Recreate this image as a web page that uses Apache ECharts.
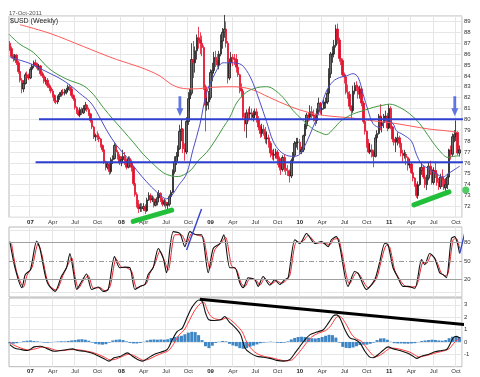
<!DOCTYPE html>
<html><head><meta charset="utf-8">
<script src="https://cdn.jsdelivr.net/npm/echarts@6/dist/echarts.min.js"></script>
<style>html,body{margin:0;padding:0;background:#fff}#c{width:480px;height:377px}</style>
</head><body><div id="c"></div>
<script>
// ---- weekly candles [open, close, low, high] ----
const w2006 = [[87.0,86.5,86.3,87.2],[86.5,85.8,85.6,86.7],[85.8,85.6,85.3,86.0],[85.6,85.9,85.4,86.0],[85.9,85.2,85.0,86.0],[85.2,84.4,84.2,85.4],[84.4,83.6,83.4,84.6],[83.6,82.8,82.4,83.8],[82.8,83.3,82.5,83.6],[83.3,84.1,83.2,84.3],[84.1,84.0,83.7,84.4],[84.0,83.8,83.6,84.2]];
const w2007 = [[83.8,84.6,83.7,84.8],[84.6,84.9,84.4,85.1],[84.9,85.2,84.7,85.4],[85.2,85.0,84.8,85.5],[85.0,84.7,84.5,85.2],[84.7,84.9,84.5,85.1],[84.9,84.2,84.0,85.0],[84.2,84.0,83.8,84.4],[84.0,83.5,83.3,84.1],[83.5,83.6,83.2,83.9],[83.6,83.1,82.9,83.8],[83.1,82.9,82.6,83.3],[82.9,82.6,82.4,83.0],[82.6,82.2,82.0,82.8],[82.2,81.7,81.5,82.3],[81.7,81.6,81.4,81.9],[81.6,82.1,81.4,82.2],[82.1,82.3,81.8,82.5],[82.3,82.5,82.1,82.7],[82.5,82.4,82.2,82.8],[82.4,82.5,82.2,82.8],[82.5,82.7,82.3,82.9],[82.7,83.0,82.5,83.2],[83.0,82.8,82.6,83.2],[82.8,82.2,82.0,83.0],[82.2,81.9,81.7,82.3],[81.9,81.1,80.9,82.0],[81.1,80.7,80.5,81.2],[80.7,80.4,80.3,80.9],[80.4,80.9,80.2,81.1],[80.9,80.6,80.4,81.1],[80.6,81.0,80.5,81.3],[81.0,81.3,80.8,81.6],[81.3,80.9,80.7,81.4],[80.9,80.5,80.3,81.1],[80.5,79.9,79.7,80.6],[79.9,79.3,79.1,80.0],[79.3,78.4,78.2,79.4],[78.4,78.5,78.0,78.7],[78.5,78.4,78.1,78.9],[78.4,78.2,77.9,78.7],[78.2,77.6,77.4,78.3],[77.6,77.2,77.0,77.7],[77.2,76.1,75.9,77.3],[76.1,75.6,75.3,76.2],[75.6,75.9,75.4,76.1],[75.9,75.2,74.9,76.0],[75.2,76.3,75.0,76.5],[76.3,76.4,75.9,76.7],[76.4,77.6,76.3,77.8],[77.6,77.0,76.8,77.8],[77.0,76.6,76.3,77.2]];
const w2008 = [[76.6,76.0,75.8,76.8],[76.0,76.3,75.7,76.6],[76.3,76.6,76.0,77.2],[76.6,76.2,75.8,77.0],[76.2,75.6,75.4,76.4],[75.6,76.4,75.5,76.6],[76.4,76.0,75.8,76.6],[76.0,75.6,75.2,76.3],[75.6,74.1,73.9,75.7],[74.1,73.1,72.9,74.2],[73.1,72.2,71.9,73.3],[72.2,71.8,71.4,72.6],[71.8,71.9,71.5,72.3],[71.9,71.8,71.5,72.3],[71.8,72.0,71.6,72.3],[72.0,71.6,71.3,72.2],[71.6,72.6,71.5,72.8],[72.6,73.0,72.5,73.3],[73.0,72.6,72.3,73.2],[72.6,72.7,72.4,73.0],[72.7,72.1,71.9,72.9],[72.1,72.4,72.0,72.7],[72.4,72.8,72.1,73.3],[72.8,73.2,72.7,73.5],[73.2,72.6,72.4,73.3],[72.6,72.2,72.0,72.8],[72.2,72.4,72.0,72.7],[72.4,72.1,71.8,72.6],[72.1,72.2,71.5,72.4],[72.2,72.9,72.0,73.1],[72.9,73.3,72.7,73.5],[73.3,75.2,73.2,75.4],[75.2,76.1,75.0,76.6],[76.1,76.6,75.8,77.0],[76.6,77.3,76.3,77.6],[77.3,78.9,77.2,79.5],[78.9,79.1,78.0,80.0],[79.1,77.3,76.9,79.2],[77.3,77.0,76.2,77.8],[77.0,79.8,76.8,80.2],[79.8,81.9,79.5,82.5],[81.9,82.4,80.8,82.8],[82.4,85.5,82.2,87.0],[85.5,85.2,83.8,87.2],[85.2,86.3,84.3,86.7],[86.3,87.5,85.5,87.8],[87.5,87.3,86.5,88.5],[87.3,87.0,86.0,88.0],[87.0,86.6,85.8,87.7],[86.6,83.0,82.7,86.8],[83.0,81.3,78.9,83.2],[81.3,81.6,80.8,82.0]];
const w2009 = [[81.6,82.0,80.9,82.6],[82.0,84.3,81.8,84.6],[84.3,84.5,83.5,85.2],[84.5,85.7,84.2,86.2],[85.7,85.4,84.8,86.3],[85.4,85.0,84.8,86.0],[85.0,86.0,84.6,86.3],[86.0,87.2,85.8,87.8],[87.2,88.0,86.5,88.4],[88.0,88.3,87.5,89.6],[88.3,87.0,86.6,89.0],[87.0,83.8,83.3,87.2],[83.8,85.2,83.6,85.6],[85.2,85.7,84.8,86.2],[85.7,85.6,84.9,86.0],[85.6,85.5,85.0,86.0],[85.5,84.8,84.3,86.0],[84.8,84.1,83.9,85.5],[84.1,82.8,82.4,84.2],[82.8,82.6,82.0,83.3],[82.6,80.2,80.0,82.7],[80.2,79.6,78.9,80.6],[79.6,80.6,78.3,80.9],[80.6,80.5,79.8,81.0],[80.5,80.6,80.0,81.2],[80.6,80.2,79.9,81.0],[80.2,80.4,79.8,80.8],[80.4,80.7,80.1,81.0],[80.7,80.0,79.7,81.0],[80.0,79.3,79.0,80.3],[79.3,78.7,78.3,79.5],[78.7,79.1,78.4,79.6],[79.1,78.8,78.5,79.5],[78.8,78.2,77.8,79.3],[78.2,78.3,77.7,78.9],[78.3,77.8,77.4,78.6],[77.8,76.9,76.5,78.0],[76.9,76.7,76.3,77.2],[76.7,76.8,76.2,77.3],[76.8,77.0,76.4,77.3],[77.0,76.4,75.8,77.2],[76.4,75.6,75.3,76.6],[75.6,75.4,74.9,75.9],[75.4,76.5,75.2,76.7],[76.5,75.5,75.2,76.8],[75.5,75.3,74.9,75.9],[75.3,75.2,74.8,75.8],[75.2,74.8,74.2,75.4],[74.8,76.2,74.6,76.4],[76.2,76.7,75.9,77.0],[76.7,77.8,76.5,78.0],[77.8,77.9,77.4,78.3]];
const w2010 = [[77.9,77.9,77.2,78.3],[77.9,77.0,76.8,78.2],[77.0,77.2,76.8,77.5],[77.2,78.5,77.0,78.6],[78.5,79.4,78.3,79.6],[79.4,80.4,79.1,80.6],[80.4,80.2,79.8,80.6],[80.2,80.7,79.9,81.3],[80.7,80.4,80.1,81.2],[80.4,80.3,79.8,80.9],[80.3,79.9,79.4,80.5],[79.9,80.8,79.6,81.0],[80.8,81.5,80.5,82.0],[81.5,80.9,80.5,81.6],[80.9,81.0,80.4,81.4],[81.0,81.5,80.9,81.8],[81.5,81.6,81.0,82.0],[81.6,82.4,81.4,82.8],[82.4,84.2,82.2,84.7],[84.2,86.0,83.8,86.2],[86.0,86.0,85.2,86.7],[86.0,86.8,85.7,87.3],[86.8,88.3,86.6,88.7],[88.3,87.3,86.9,88.8],[87.3,85.6,85.3,87.5],[85.6,85.4,85.0,86.4],[85.4,84.1,83.9,85.6],[84.1,83.9,83.3,84.3],[83.9,82.5,82.3,84.0],[82.5,82.3,81.9,83.2],[82.3,81.2,80.9,82.6],[81.2,80.8,80.1,81.3],[80.8,82.6,80.6,83.1],[82.6,83.1,82.3,83.4],[83.1,83.0,82.6,83.5],[83.0,82.3,81.9,83.2],[82.3,82.8,81.9,83.1],[82.8,81.5,81.2,83.0],[81.5,79.8,79.6,81.7],[79.8,78.9,78.6,80.1],[78.9,77.8,77.4,79.0],[77.8,77.0,76.9,78.2],[77.0,77.2,76.8,77.8],[77.2,77.0,76.5,77.7],[77.0,76.6,75.6,77.2],[76.6,78.3,76.5,78.6],[78.3,78.7,77.9,79.0],[78.7,80.3,78.6,80.5],[80.3,79.4,79.0,81.4],[79.4,79.7,78.8,80.2],[79.7,80.2,79.2,80.5],[80.2,80.3,79.8,80.8]];
const w2011 = [[80.3,79.2,78.9,80.6],[79.2,81.0,79.1,81.4],[81.0,79.3,79.1,81.2],[79.3,78.2,77.9,79.4],[78.2,77.9,77.6,78.6],[77.9,78.1,77.0,78.4],[78.1,78.3,77.6,78.8],[78.3,77.8,77.4,78.5],[77.8,76.9,76.6,78.0],[76.9,76.7,76.1,77.2],[76.7,76.8,76.4,77.2],[76.8,76.5,75.8,77.0],[76.5,75.8,75.3,76.6],[75.8,75.9,75.5,76.4],[75.9,75.1,75.0,76.0],[75.1,74.6,74.3,75.2],[74.6,74.0,73.8,74.7],[74.0,73.0,72.8,74.1],[73.0,74.0,72.7,74.3],[74.0,75.3,73.9,75.6],[75.3,75.6,74.9,76.0],[75.6,74.7,74.5,75.8],[74.7,74.0,73.7,75.0],[74.0,74.6,73.5,74.9],[74.6,75.7,74.4,76.0],[75.7,75.4,74.9,76.2],[75.4,74.2,74.0,75.6],[74.2,75.3,74.0,75.6],[75.3,75.0,74.6,76.1],[75.0,74.2,73.9,75.3],[74.2,73.8,73.5,74.6],[73.8,74.7,73.6,75.0],[74.7,74.5,73.8,75.4],[74.5,73.7,73.5,74.6],[73.7,74.0,73.4,74.6],[74.0,74.7,73.6,75.0],[74.7,77.2,74.6,77.3],[77.2,76.8,76.3,77.6],[76.8,78.4,76.6,78.7],[78.4,78.6,77.9,79.0],[78.6,78.8,78.0,79.9],[78.8,76.9,76.7,78.9],[76.9,77.2,76.6,77.6]];

// ---- moving averages [weekIndex, value] ----
const blueMA = [[0,85.75],[5.9,85.44],[11.7,85.14],[17.6,84.68],[23.4,84.22],[29.2,83.76],[35,83.15],[40.8,82.38],[46.7,81.6],[50.6,80.7],[56.4,79.0],[62.2,77.6],[68,76.56],[73.9,75.33],[79.7,74.26],[85.5,73.34],[91.3,72.7],[99.1,74.1],[103,75.0],[106.7,77.2],[110.7,79.5],[114.6,82.4],[119.5,84.2],[124.3,85.2],[128.2,85.2],[134,85.1],[137.9,84.5],[141.8,83.3],[145.7,81.6],[149.6,79.8],[153.4,78.0],[157.3,77.1],[161.2,76.7],[165.1,76.6],[169,76.8],[172.9,77.9],[176.7,79.3],[180.6,80.8],[184.5,82.6],[188.4,83.5],[192.3,83.85],[196.2,84.0],[200,84.2],[203,83.85],[205.9,82.3],[208.8,80.8],[211.7,79.6],[215.6,79.25],[219.5,79.9],[223.3,79.6],[225.3,78.95],[229.1,78.6],[234,78.0],[236.9,76.8],[239.9,75.9],[244.7,75.4],[248.6,75.0],[252.4,74.7],[255.4,75.0],[258.3,75.3],[262.2,75.7]];
const greenMA = [[-0.5,87.83],[5.9,86.9],[13.7,86.15],[23.4,84.6],[33.1,83.7],[42.8,83.1],[48.6,82.3],[54.4,81.1],[60.2,80.0],[66.1,78.95],[71.9,77.9],[77.7,76.8],[83.5,75.9],[89.4,75.1],[94.3,74.8],[98.1,74.75],[102,74.96],[105.9,75.4],[109.7,76.2],[114.6,76.95],[119.4,78.0],[124.3,79.25],[128.2,80.2],[132.1,81.5],[137.9,82.5],[143.8,82.9],[149.6,83.0],[153.4,82.8],[159.3,82.0],[165.1,80.8],[170.9,79.9],[176.7,79.1],[180.6,78.8],[184.5,78.6],[188.4,79.1],[193.3,79.9],[200,80.5],[205.9,80.8],[211.7,81.1],[217.5,81.3],[221.4,81.4],[227.2,81.1],[233.1,80.5],[238.9,79.6],[244.7,78.3],[250.5,77.1],[255.4,76.5],[258.3,76.6],[262.2,76.65]];
const redMA = [[5.9,88.7],[23.4,87.9],[42.8,86.7],[62.2,85.5],[75.8,84.8],[87.4,84.0],[93.3,83.3],[99.1,82.9],[106.8,82.8],[118.5,82.95],[128.2,83.0],[139.9,82.8],[151.5,82.0],[163.1,81.2],[174.8,80.6],[186.4,80.3],[198.1,80.15],[209.7,79.9],[221.4,79.7],[233.1,79.4],[244.7,79.1],[254.4,78.95],[261.2,78.8]];

// ---- stochastic panel ----
const stochK = [[0,81],[3,39],[7,7],[9,28],[12,36],[15.6,82],[17.5,70],[20.5,28],[22.4,12],[26.3,1],[30,25],[33,39],[35,62],[37,33],[39,4],[41.8,17],[44.7,29],[47.7,4],[51.5,8],[54.4,1],[57.3,4],[61,57],[64,39],[67,40],[70,39],[72.9,4],[75.8,9],[78.7,12],[80.6,28],[83.5,39],[86.5,70],[89.4,54],[91.3,31],[95.2,97],[99.1,94],[102,73],[104.9,97],[108.8,92],[111.7,92],[115.6,31],[118.5,70],[122.4,78],[124.7,92],[128.2,39],[131.1,39],[134,15],[136,7],[138.9,23],[142.8,20],[144.7,9],[147.6,25],[151.5,11],[154.4,20],[157.3,12],[160.2,20],[162.2,23],[166.1,84],[169,78],[172.9,94],[177.7,78],[181.6,81],[185.5,73],[187.4,84],[190.3,89],[192.3,73],[197.1,9],[201,33],[203,30],[207.8,4],[212.7,20],[215.6,49],[218.5,78],[220.4,76],[223.3,39],[226.2,23],[229.1,9],[232.1,9],[236,6],[239.9,52],[241.8,44],[244.7,62],[247.6,54],[250.5,31],[252.5,28],[254.4,23],[257.3,86],[259.2,89],[262.1,62]];
const stochD = [[1,78],[4,32],[8,8],[10,27],[13,40],[16.5,78],[18.5,62],[21.5,22],[23.5,9],[27,3],[31,27],[34,45],[36,55],[38,25],[40,6],[43,19],[45.7,26],[48.7,6],[52.5,7],[55.4,2],[58.3,8],[62,53],[65,40],[68,39],[71,33],[74,6],[77,10],[79.7,14],[81.6,30],[84.5,45],[87.5,66],[90.4,48],[92.3,35],[96.2,92],[100,92],[103,78],[106,94],[109.8,91],[112.7,88],[116.6,38],[119.5,68],[123.4,80],[125.7,88],[129.2,42],[132.1,36],[135,13],[137,9],[139.9,22],[143.8,18],[145.7,11],[148.6,22],[152.5,13],[155.4,18],[158.3,14],[161.2,19],[163.2,27],[167,80],[170,80],[173.9,91],[178.7,79],[182.6,79],[186.5,76],[188.4,84],[191.3,86],[193.3,66],[198,13],[202,31],[204,27],[208.8,7],[213.7,22],[216.6,52],[219.5,75],[221.4,72],[224.3,35],[227.2,20],[230.1,10],[233.1,8],[237,10],[240.9,48],[242.8,46],[245.7,60],[248.6,50],[251.5,30],[253.5,26],[255.4,30],[258.3,84],[260.2,86],[262.1,70]];

// ---- MACD panel ----
const macdLine = [[0,-0.21],[2.6,-0.48],[6.4,-0.61],[10.3,-0.69],[14.2,-0.40],[18,-0.35],[22,-0.56],[25.8,-0.75],[29.7,-0.69],[33.6,-0.61],[36.5,-0.56],[39.4,-0.69],[43.3,-0.75],[47.2,-0.88],[51,-1.09],[54.9,-1.36],[57.8,-1.55],[60.7,-1.28],[64.6,-1.15],[68.5,-0.88],[71.4,-1.15],[74.4,-1.41],[77.3,-1.55],[80.2,-1.33],[84,-1.01],[87.9,-0.83],[91.8,-0.61],[94.7,0.19],[97.6,0.85],[100.5,1.12],[103.5,2.05],[106.4,2.85],[110.2,3.39],[112.2,3.25],[114.1,2.32],[116,1.79],[119,1.73],[122.9,1.79],[125.2,2.05],[127.7,1.65],[131.6,1.12],[134.5,0.59],[137,-0.48],[140,-0.88],[143.8,-1.15],[147.7,-1.23],[151.6,-1.33],[155.5,-1.49],[159.4,-1.55],[163.3,-1.41],[166.2,-0.88],[169.1,-0.35],[172,0.19],[175,0.59],[178.8,0.80],[182.7,0.99],[185.6,1.52],[188.5,2.11],[190.5,2.19],[192.4,1.92],[195.3,0.99],[198.2,0.32],[201.1,0.19],[204,-0.08],[206.9,-0.75],[209.8,-1.23],[211.8,-1.28],[214.7,-1.01],[217.6,-0.67],[220.5,-0.40],[223.4,-0.56],[227.3,-0.69],[231.2,-0.88],[235,-1.15],[237,-1.33],[239.9,-1.15],[243.8,-1.01],[247.7,-0.80],[251.6,-0.69],[254.5,-0.61],[256.4,-0.21],[258.3,0.32],[260.3,0.45],[262.2,0.32]];
const macdSignal = [[0,-0.05],[3,-0.30],[7,-0.52],[11,-0.65],[15,-0.55],[19,-0.42],[23,-0.50],[27,-0.68],[31,-0.70],[35,-0.62],[39,-0.62],[43,-0.70],[47,-0.80],[51,-0.98],[55,-1.22],[58.5,-1.45],[61.5,-1.40],[65,-1.20],[69,-1.00],[72,-1.08],[75,-1.30],[78,-1.48],[81,-1.40],[85,-1.12],[89,-0.90],[92.5,-0.70],[95.5,-0.15],[98.5,0.55],[101.5,0.95],[104.5,1.70],[107.5,2.50],[111,3.10],[113,3.20],[115,2.60],[117,2.10],[120,1.85],[123.5,1.80],[126,1.95],[128.5,1.80],[132.5,1.30],[135.5,0.80],[138,0.00],[141,-0.60],[144.5,-0.98],[148.5,-1.18],[152.5,-1.28],[156.5,-1.42],[160.5,-1.52],[164.5,-1.45],[167,-1.10],[170,-0.60],[173,-0.05],[176,0.42],[180,0.72],[184,0.92],[187,1.30],[189.5,1.85],[191.5,2.10],[193.5,1.95],[196.5,1.30],[199.5,0.55],[202,0.25],[205,0.05],[208,-0.50],[211,-1.00],[213,-1.20],[216,-1.05],[219,-0.75],[222,-0.50],[225,-0.52],[229,-0.65],[233,-0.82],[236,-1.05],[238.5,-1.22],[241,-1.15],[245,-1.02],[249,-0.85],[253,-0.72],[256,-0.55],[258.5,-0.15],[261,0.20],[262.5,0.28]];
const macdHistWeeks = [0,2,4,6,8,10,12,14,16,18,20,22,24,26,28,30,32,34,36,38,40,42,44,46,48,50,52,54,56,58,60,62,64,66,68,70,72,74,76,78,80,82,84,86,88,90,92,94,96,98,100,102,104,106,108,110,112,114,116,118,120,122,124,126,128,130,132,134,136,138,140,142,144,146,148,150,152,154,156,158,160,162,164,166,168,170,172,174,176,178,180,182,184,186,188,190,192,194,196,198,200,202,204,206,208,210,212,214,216,218,220,222,224,226,228,230,232,234,236,238,240,242,244,246,248,250,252,254,256,258,260,262];
const macdHist = [-0.12,-0.14,-0.10,-0.02,0.06,0.10,0.12,0.08,0.05,0.02,-0.05,-0.06,-0.03,0.02,0.04,0.06,0.05,0.08,0.12,0.15,0.20,0.22,0.18,0.10,-0.05,-0.15,-0.20,-0.22,-0.18,-0.05,0.12,0.18,0.20,0.15,0.05,-0.08,-0.12,-0.12,-0.08,0.02,0.12,0.18,0.20,0.18,0.20,0.18,0.22,0.32,0.40,0.45,0.50,0.62,0.75,0.82,0.80,0.55,0.15,-0.35,-0.50,-0.30,-0.08,0.02,0.08,0.05,-0.15,-0.28,-0.35,-0.50,-0.55,-0.50,-0.38,-0.30,-0.20,-0.10,-0.05,-0.02,0.03,-0.02,-0.06,-0.08,-0.05,0.05,0.20,0.32,0.40,0.42,0.40,0.35,0.30,0.28,0.32,0.40,0.50,0.58,0.55,0.35,-0.05,-0.40,-0.48,-0.50,-0.45,-0.35,-0.25,-0.22,-0.22,-0.15,-0.05,0.15,0.28,0.30,0.18,0.02,-0.10,-0.12,-0.12,-0.13,-0.14,-0.12,-0.10,-0.02,0.08,0.12,0.15,0.18,0.16,0.12,0.10,0.15,0.30,0.42,0.45,0.40];

// ---- annotations (data coordinates) ----
const resistanceLine = [[17.0,80.0],[270.9,80.0]];
const supportLine = [[15.0,76.05],[270.9,76.05]];
const greenTrend1 = [[71.9,70.62],[94.3,71.66]];
const greenTrend2 = [[235.5,72.14],[255.9,73.34]];
const greenDot = [[265.7,73.5]];
const arrowPoints = [[99.1,81.2],[259.3,81.2]];
const blueSlash1 = [[103.0,67.5],[111.7,133.4]];
const blueSlash2 = [[262.2,62.2],[268.0,126.9]];
const macdTrend = [[110.7,3.44],[273.8,1.28]];

// ---- axis labels ----
const monthLabels = {0:'', 3:'Apr', 6:'Jul', 9:'Oct'};
const priceTicks = [72,73,74,75,76,77,78,79,80,81,82,83,84,85,86,87,88,89];
const stochTicks = [20,50,80];

// categories: weekly dates
const N_CATS = 264;
const t0 = Date.UTC(2006,9,9);
const weeks = [];
for (let k = 0; k < N_CATS; k++) weeks.push(new Date(t0 + k * 7 * 86400000));
const categories = weeks.map(d => d.toISOString().slice(0,10));
function isQStart(idx) {
  if (idx <= 0 || idx >= weeks.length) return false;
  const m = weeks[idx].getUTCMonth(), pm = weeks[idx-1].getUTCMonth();
  return m !== pm && m % 3 === 0;
}
function qLabel(value) {
  const m = parseInt(value.slice(5,7),10) - 1;
  if (m === 0) return '{b|' + value.slice(2,4) + '}';
  return monthLabels[m] || '';
}
const ohlc = [].concat(w2006, w2007, w2008, w2009, w2010, w2011);

const FONT = 'Liberation Sans';
const gridBorder = '#b8b8b8';
const gridLine = '#e6e6e6';
const L = 9, R = 18;

function catAxis(gi, showLabels) {
  return {
    type: 'category', gridIndex: gi, data: categories, boundaryGap: true,
    axisLine: {show: false}, axisTick: {show: false},
    axisLabel: showLabels ? {
      show: true, interval: (i) => isQStart(i), formatter: (v) => qLabel(v),
      fontSize: 6, color: '#333', fontFamily: FONT, margin: 2,
      rich: {b: {fontSize: 6, fontWeight: 'bold', color: '#222', fontFamily: FONT}}
    } : {show: false},
    splitLine: {show: true, interval: (i) => isQStart(i), lineStyle: {color: gridLine, width: 1}}
  };
}
function valXAxis(gi) {
  return {type: 'value', gridIndex: gi, min: -0.5, max: N_CATS - 0.5, show: false};
}
function lineS(x, y, data, color, width, extra) {
  return Object.assign({
    type: 'line', xAxisIndex: x, yAxisIndex: y, data: data, symbol: 'none',
    smooth: 0.35, lineStyle: {color: color, width: width}, silent: true
  }, extra || {});
}

const chart = echarts.init(document.getElementById('c'), null, {renderer: 'canvas'});
chart.setOption({
  animation: false,
  backgroundColor: '#ffffff',
  grid: [
    {left: L, right: R, top: 16, height: 201.3, show: true, borderColor: gridBorder, borderWidth: 1, backgroundColor: 'transparent'},
    {left: L, right: R, top: 227, height: 70, show: true, borderColor: gridBorder, borderWidth: 1, backgroundColor: 'transparent'},
    {left: L, right: R, top: 298, height: 68.7, show: true, borderColor: gridBorder, borderWidth: 1, backgroundColor: 'transparent'}
  ],
  xAxis: [catAxis(0, true), valXAxis(0), catAxis(1, false), valXAxis(1), catAxis(2, true), valXAxis(2)],
  yAxis: [
    {type: 'value', gridIndex: 0, position: 'right', min: 71, max: 89.5, interval: 1,
     axisLine: {show: false}, axisTick: {show: false},
     axisLabel: {fontSize: 6, color: '#333', fontFamily: FONT, margin: 2, showMinLabel: false, showMaxLabel: false,
       formatter: (v) => priceTicks.indexOf(v) >= 0 ? String(v) : ''},
     splitLine: {show: true, lineStyle: {color: gridLine, width: 1}}},
    {type: 'value', gridIndex: 1, position: 'right', min: -8, max: 104.5,
     axisLine: {show: false}, axisTick: {show: false},
     axisLabel: {fontSize: 6, color: '#333', fontFamily: FONT, margin: 2, customValues: stochTicks},
     splitLine: {show: false}},
    {type: 'value', gridIndex: 2, position: 'right', min: -2, max: 3.55, interval: 1,
     axisLine: {show: false}, axisTick: {show: false},
     axisLabel: {fontSize: 6, color: '#333', fontFamily: FONT, margin: 2, showMinLabel: false, showMaxLabel: false,
       formatter: (v) => (Math.round(v) === v ? String(v) : '')},
     splitLine: {show: true, showMinLine: false, showMaxLine: false, lineStyle: {color: gridLine, width: 1}}}
  ],
  graphic: [
    {type: 'text', left: 9, top: 10, style: {text: '17-Oct-2011', font: '6px "Liberation Sans"', fill: '#555'}},
    {type: 'text', left: 10, top: 17.5, z: 100, style: {text: '$USD (Weekly)', font: '7px "Liberation Sans"', fill: '#222'}}
  ],
  series: [
    lineS(1, 0, redMA, '#ff5a5a', 1),
    lineS(1, 0, greenMA, '#3f9a3f', 1),
    {type: 'candlestick', xAxisIndex: 0, yAxisIndex: 0, data: ohlc, barWidth: 2, silent: true,
     itemStyle: {color: '#6a6a6a', color0: '#e3122d', borderColor: '#1c1c1c', borderColor0: '#e3122d', borderWidth: 0.8}},
    lineS(1, 0, blueMA, '#4e4ec8', 1),
    lineS(1, 0, resistanceLine, '#2f3fd0', 2, {smooth: false, clip: false}),
    lineS(1, 0, supportLine, '#2f3fd0', 2, {smooth: false, clip: false}),
    lineS(1, 0, greenTrend1, '#22c03a', 5, {smooth: false, clip: false, lineStyle: {color: '#22c03a', width: 5, cap: 'round'}}),
    lineS(1, 0, greenTrend2, '#22c03a', 5, {smooth: false, clip: false, lineStyle: {color: '#22c03a', width: 5, cap: 'round'}}),
    {type: 'scatter', xAxisIndex: 1, yAxisIndex: 0, data: greenDot, symbol: 'circle', symbolSize: 7, clip: false, silent: true,
     itemStyle: {color: '#22c03a'}},
    {type: 'scatter', xAxisIndex: 1, yAxisIndex: 0, data: arrowPoints, silent: true, clip: false,
     symbol: 'path://M1.8,0 L4.2,0 L4.2,12 L6,12 L3,20 L0,12 L1.8,12 Z', symbolSize: [7, 20],
     itemStyle: {color: '#3b55dd'}},
    // stochastic
    lineS(3, 1, stochD, '#e8202a', 1, {smooth: 0.25}),
    lineS(3, 1, stochK, '#111111', 1.1, {smooth: 0.25,
      markLine: {silent: true, symbol: 'none', label: {show: false}, animation: false,
        data: [
          {yAxis: 80, lineStyle: {color: '#a0a0a0', width: 1.2, type: 'solid'}},
          {yAxis: 20, lineStyle: {color: '#a0a0a0', width: 1.2, type: 'solid'}},
          {yAxis: 50, lineStyle: {color: '#999999', width: 1, type: [5, 2, 1, 2]}},
          {yAxis: 100, lineStyle: {color: gridLine, width: 1, type: 'solid'}},
          {yAxis: 0, lineStyle: {color: gridLine, width: 1, type: 'solid'}}
        ]}}),
    lineS(3, 1, blueSlash1, '#3344cc', 1.4, {smooth: false, clip: false, z: 10}),
    lineS(3, 1, blueSlash2, '#3344cc', 1.4, {smooth: false, clip: false, z: 10}),
    // MACD
    {type: 'bar', xAxisIndex: 5, yAxisIndex: 2, data: macdHistWeeks.map((w, k) => [w, macdHist[k]]),
     barWidth: 3, silent: true, itemStyle: {color: '#3d86c6'}},
    lineS(5, 2, macdSignal, '#ff3b3b', 1, {smooth: 0.3}),
    lineS(5, 2, macdLine, '#111111', 1.1, {smooth: 0.3}),
    lineS(5, 2, macdTrend, '#000000', 3, {smooth: false, clip: false, z: 10})
  ]
});
</script>
</body></html>
